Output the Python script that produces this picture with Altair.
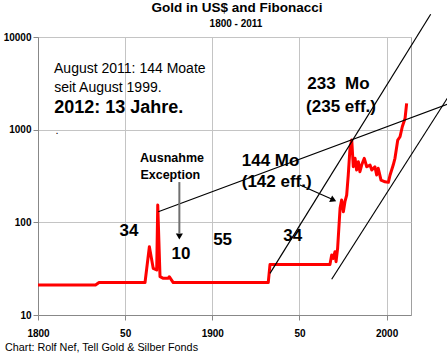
import altair as alt
import pandas as pd

FONT = "Liberation Sans"

# ---- gold price (US$ / oz) ----
gold_years = [1800, 1833, 1835, 1861.4, 1863.9, 1866.1, 1868.1, 1868.7, 1870.0, 1871.9,
              1874.8, 1875.3, 1877.6, 1932.1, 1933.1, 1967.5, 1968.5, 1969.4, 1970.4, 1971.0,
              1971.9, 1973.3, 1974.2, 1975.2, 1976.1, 1977.1, 1978.0, 1979.0, 1980.0, 1980.9,
              1981.9, 1982.8, 1983.8, 1984.7, 1985.7, 1987.2, 1988.6, 1990.5, 1991.5, 1993.3,
              1994.3, 1995.2, 1996.8, 1999.1, 2001.0, 2002.0, 2003.8, 2004.8, 2006.4, 2007.7,
              2009.0, 2010.6, 2011.5]
gold_values = [21.1, 21.1, 22.4, 22.4, 54.6, 31.9, 30.6, 154, 25.9, 24.9,
               24.9, 25.9, 22.4, 22.4, 35, 35, 44.4, 40.9, 48.2, 37.6,
               52.5, 141.6, 174, 130, 167, 197, 324, 630, 773, 398,
               491, 367, 451, 352, 415, 491, 398, 415, 367, 398,
               324, 383, 286, 274, 270, 324, 415, 491, 773, 839,
               1076, 1327, 1925]

# ---- trend lines ----
trend_seg = ["long", "long", "steep1", "steep1", "steep2", "steep2"]
trend_years = [1869.0, 2036.4, 1933.1, 2025.3, 1968.5, 2036.4]
trend_values = [130.2, 1925, 28.1, 17580, 24.3, 2427]

# ---- arrows ----
arrow1_years = [1881.1, 1881.1]
arrow1_values = [272, 76.6]
arrow1_head = (1881.1, 70.3)
arrow2_years = [1950.3, 1968.1]
arrow2_values = [253, 179.5]
arrow2_head = (1969.5, 174)

# ---- annotations ----
info_text = ["August 2011: 144 Moate", "seit August 1999."]
info_years = [1809.2, 1809.3]
info_values = [4121, 2529]

big_text = ["2012: 13 Jahre."]
big_years = [1809.3]
big_values = [1503]

dot_text = ["."]
dot_years = [1810]
dot_values = [887]

mo_text = ["233 \u00a0Mo", "(235 eff.)", "144 Mo", "(142 eff.)"]
mo_years = [1954.5, 1953.8, 1916.9, 1916.9]
mo_values = [2729, 1563, 405, 240]

fib_text = ["34", "10", "55", "34"]
fib_years = [1852.2, 1882.0, 1905.9, 1946.2]
fib_values = [71.2, 39.9, 56.5, 63.4]

exc_text = ["Ausnahme", "Exception"]
exc_years = [1876.9, 1875.9]
exc_values = [451, 291]

title_text = "Gold in US$ and Fibonacci"
subtitle_text = "1800 - 2011"
footer_text = "Chart: Rolf Nef, Tell Gold & Silber Fonds"

x_ticks = [1800, 1850, 1900, 1950, 2000]
y_ticks = [10, 100, 1000, 10000]

x_scale = alt.Scale(domain=[1800, 2014], nice=False, zero=False)
y_scale = alt.Scale(type="log", domain=[10, 10000], nice=False)

x_axis = alt.Axis(values=x_ticks, format="d",
                  labelExpr="datum.value % 100 == 50 ? '50' : datum.label",
                  title=None, grid=True, gridColor="#c4c4c4", gridWidth=1,
                  domainColor="#888888", tickColor="#888888", tickSize=5,
                  labelPadding=8, labelFlush=False, labelFont=FONT, labelFontSize=10,
                  labelFontWeight="bold", labelColor="black")
y_axis = alt.Axis(values=y_ticks, format="d", title=None, grid=True,
                  gridColor="#c4c4c4", gridWidth=1, domainColor="#888888",
                  tickColor="#888888", tickSize=5, labelPadding=2, labelFlush=False,
                  labelFont=FONT, labelFontSize=10, labelFontWeight="bold",
                  labelColor="black")


def X():
    return alt.X("year:Q", scale=x_scale, axis=x_axis)


def Y():
    return alt.Y("value:Q", scale=y_scale, axis=y_axis)


gold_df = pd.DataFrame({"year": gold_years, "value": gold_values})
gold = alt.Chart(gold_df).mark_line(color="#ff0000", strokeWidth=3,
                                    strokeJoin="round").encode(
    x=X(), y=Y(), order="year:Q")

trend_df = pd.DataFrame({"seg": trend_seg, "year": trend_years, "value": trend_values})
trend = alt.Chart(trend_df).mark_line(color="black", strokeWidth=1.2, clip=False).encode(
    x=X(), y=Y(), detail="seg:N")

a1_df = pd.DataFrame({"year": arrow1_years, "value": arrow1_values})
a1 = alt.Chart(a1_df).mark_line(color="#707070", strokeWidth=2).encode(x=X(), y=Y())
a1h = alt.Chart(pd.DataFrame({"year": [arrow1_head[0]], "value": [arrow1_head[1]]})).mark_point(
    shape="triangle-down", filled=True, color="black", opacity=1, size=50).encode(x=X(), y=Y())

a2_df = pd.DataFrame({"year": arrow2_years, "value": arrow2_values})
a2 = alt.Chart(a2_df).mark_line(color="black", strokeWidth=1.2).encode(x=X(), y=Y())
a2h = alt.Chart(pd.DataFrame({"year": [arrow2_head[0]], "value": [arrow2_head[1]]})).mark_point(
    shape="triangle-right", angle=25, filled=True, color="black", opacity=1, size=50).encode(x=X(), y=Y())


def text_layer(texts, years, values, size, weight, align):
    df = pd.DataFrame({"t": texts, "year": years, "value": values})
    return alt.Chart(df).mark_text(font=FONT, fontSize=size, fontWeight=weight,
                                   align=align, baseline="alphabetic",
                                   color="black").encode(x=X(), y=Y(), text="t:N")


t_info = text_layer(info_text, info_years, info_values, 14, "normal", "left")
t_big = text_layer(big_text, big_years, big_values, 18, "bold", "left")
t_dot = text_layer(dot_text, dot_years, dot_values, 11, "normal", "left")
t_mo = text_layer(mo_text, mo_years, mo_values, 17, "bold", "left")
t_fib = text_layer(fib_text, fib_years, fib_values, 17, "bold", "center")
t_exc = text_layer(exc_text, exc_years, exc_values, 12.5, "bold", "center")


def pixel_text(txt, x, y, size, weight, align):
    return alt.Chart(pd.DataFrame({"t": [txt]})).mark_text(
        font=FONT, fontSize=size, fontWeight=weight, align=align,
        baseline="alphabetic", color="black").encode(
        x=alt.value(x), y=alt.value(y), text="t:N")


t_title = pixel_text(title_text, 199, -25.3, 13.5, "bold", "center")
t_sub = pixel_text(subtitle_text, 198, -10.3, 10, "bold", "center")
t_foot = pixel_text(footer_text, -33, 313.7, 10.8, "normal", "left")

chart = alt.layer(
    gold, trend, a1, a1h, a2, a2h,
    t_info, t_big, t_dot, t_mo, t_fib, t_exc,
    t_title, t_sub, t_foot,
).properties(
    width=373, height=278,
    autosize=alt.AutoSizeParams(type="none"),
    padding={"left": 38, "top": 37, "right": 36, "bottom": 38},
    background="white",
).configure_view(stroke="#a0a0a0", strokeWidth=1)

chart.save("out.html", embed_options={"renderer": "svg", "actions": False})
